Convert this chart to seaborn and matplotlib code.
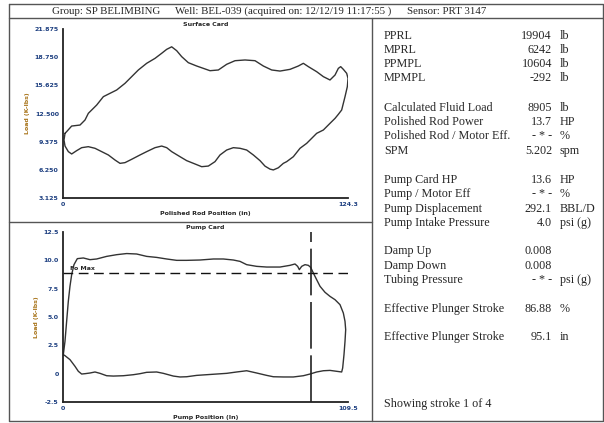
import seaborn as sns
import matplotlib.pyplot as plt
from matplotlib.ticker import FixedLocator
from matplotlib.lines import Line2D

# surface card (polished rod position in, load K-lbs) - closed loop
surf_x = [0.88, 1.60, 3.78, 7.42, 9.60, 11.05, 14.69, 17.60, 20.50, 23.41, 27.04, 29.95,
          32.86, 36.49, 40.13, 43.03, 45.22, 47.40, 49.58, 51.76, 54.66, 58.30, 61.21,
          64.11, 67.75, 71.38, 75.02, 79.38, 83.74, 87.37, 91.01, 94.64, 99.00, 102.63,
          104.82, 107.00, 110.63, 113.54, 116.44, 118.63, 120.08, 121.10, 122.26, 123.71,
          124.3, 124.0, 122.99, 122.26, 121.53, 120.08, 118.63, 116.44, 113.54, 110.63,
          106.27, 103.36, 100.46, 97.55, 96.09, 93.91, 91.73, 90.28, 88.10, 85.92, 83.01,
          80.10, 77.20, 74.29, 71.38, 68.47, 66.29, 63.39, 60.48, 57.57, 53.94, 51.03,
          47.40, 45.22, 43.03, 40.13, 36.49, 33.58, 29.95, 27.04, 24.86, 22.68, 19.78,
          16.87, 13.96, 11.05, 8.15, 5.97, 3.78, 2.33, 0.88, 0.44, 0.88]
surf_load = [10.30, 10.49, 11.11, 11.22, 11.78, 12.52, 13.44, 14.37, 14.74, 15.11, 15.85, 16.59,
             17.33, 18.07, 18.62, 19.18, 19.62, 19.90, 19.47, 18.81, 18.14, 17.77, 17.51,
             17.25, 17.33, 17.96, 18.36, 18.44, 18.36, 17.77, 17.33, 17.21, 17.40, 17.77,
             18.07, 17.70, 17.14, 16.59, 16.22, 16.77, 17.51, 17.70, 17.40, 16.96,
             16.40, 15.48, 14.37, 13.63, 12.89, 12.41, 11.96, 11.41, 10.67, 10.30,
             9.19, 8.64, 7.71, 7.16, 6.97, 6.48, 6.24, 6.33, 6.66, 7.27, 7.90,
             8.45, 8.64, 8.71, 8.45, 7.90, 7.16, 6.67, 6.60, 6.90, 7.27, 7.71,
             8.27, 8.71, 8.89, 8.71, 8.27, 7.90, 7.42, 7.05, 6.97, 7.34, 7.90,
             8.27, 8.64, 8.82, 8.71, 8.38, 8.01, 8.27, 8.89, 9.56, 10.30]

# pump card (pump position in, load K-lbs) - closed loop
pump_x = [0.12, 0.76, 1.40, 2.04, 2.68, 3.33, 4.22, 5.50, 7.81, 10.37, 12.93, 16.77, 20.61,
          24.46, 28.30, 32.14, 35.98, 39.83, 43.67, 47.51, 52.63, 57.79, 61.60, 65.44,
          68.00, 70.56, 74.40, 78.25, 83.37, 87.21, 89.13, 90.15, 90.80, 91.69, 92.97,
          94.25, 95.15, 96.18, 97.46, 98.74, 100.66, 102.58, 104.50, 106.42, 107.70,
          108.34, 108.60, 108.34, 107.95, 107.44, 107.06, 105.14, 102.58, 100.02, 97.46,
          94.90, 92.33, 88.49, 84.65, 80.81, 78.25, 74.40, 70.56, 66.72, 62.88, 59.04,
          55.19, 51.35, 47.51, 44.95, 42.39, 38.54, 35.98, 32.14, 29.58, 27.02, 23.18,
          19.33, 16.77, 14.21, 12.29, 10.37, 8.45, 7.17, 5.89, 4.61, 2.68, 0.76, 0.12]
pump_load = [1.68, 2.85, 4.62, 6.38, 7.71, 8.74, 9.62, 10.15, 10.21, 10.06, 10.12, 10.35, 10.50,
             10.60, 10.56, 10.35, 10.26, 10.12, 10.00, 10.00, 10.03, 10.12, 10.12, 10.03,
             9.91, 9.62, 9.47, 9.41, 9.41, 9.56, 9.68, 9.47, 9.18, 9.47, 9.62,
             9.56, 9.38, 8.88, 8.29, 7.71, 7.18, 6.82, 6.53, 6.09, 5.35,
             4.62, 3.88, 2.85, 1.68, 0.50, 0.15, 0.21, 0.29, 0.26, 0.15,
             -0.03, -0.18, -0.29, -0.29, -0.27, -0.15, 0.06, 0.26, 0.15, 0.03, -0.03,
             -0.09, -0.15, -0.27, -0.29, -0.21, 0.03, 0.15, 0.12, 0.00, -0.09, -0.18,
             -0.21, -0.18, 0.03, 0.15, 0.06, 0.00, -0.03, 0.21, 0.65, 1.24, 1.59, 1.68]

fluid_load = 8.905
eff_stroke = 95.1

surf_yticks = [3.125, 6.250, 9.375, 12.500, 15.625, 18.750, 21.875]
surf_ylabels = ["3.125", "6.250", "9.375", "12.500", "15.625", "18.750", "21.875"]
pump_yticks = [-2.5, 0, 2.5, 5.0, 7.5, 10.0, 12.5]
pump_ylabels = ["-2.5", "0", "2.5", "5.0", "7.5", "10.0", "12.5"]

header = ["Group: SP BELIMBING", "Well: BEL-039 (acquired on: 12/12/19 11:17:55 )",
          "Sensor: PRT 3147"]

rows = [("PPRL", "19904", "lb", 36), ("MPRL", "6242", "lb", 50),
        ("PPMPL", "10604", "lb", 64), ("MPMPL", "-292", "lb", 78),
        ("Calculated Fluid Load", "8905", "lb", 108), ("Polished Rod Power", "13.7", "HP", 122),
        ("Polished Rod / Motor Eff.", "- * -", "%", 136), ("SPM", "5.202", "spm", 151),
        ("Pump Card HP", "13.6", "HP", 180), ("Pump / Motor Eff", "- * -", "%", 194),
        ("Pump Displacement", "292.1", "BBL/D", 209), ("Pump Intake Pressure", "4.0", "psi (g)", 223),
        ("Damp Up", "0.008", "", 251), ("Damp Down", "0.008", "", 266),
        ("Tubing Pressure", "- * -", "psi (g)", 280),
        ("Effective Plunger Stroke", "86.88", "%", 309),
        ("Effective Plunger Stroke", "95.1", "in", 337),
        ("Showing stroke 1 of 4", "", "", 404)]

sns.set_style("white")
W, H = 604, 423
fig = plt.figure(figsize=(6.04, 4.23), dpi=100)

def fx(px):
    return px / W

def fy(py):
    return 1 - py / H

# frame lines
frame = dict(color="#555555", lw=1.0)
fig.add_artist(Line2D([fx(9), fx(603), fx(603), fx(9), fx(9)],
                      [fy(4), fy(4), fy(421), fy(421), fy(4)], **frame))
fig.add_artist(Line2D([fx(9), fx(603)], [fy(18), fy(18)], **frame))
fig.add_artist(Line2D([fx(372), fx(372)], [fy(18), fy(421)], **frame))
fig.add_artist(Line2D([fx(9), fx(372)], [fy(222), fy(222)], **frame))

serif = ["Liberation Serif", "DejaVu Serif"]
for txt, px in zip(header, [52, 175, 407]):
    fig.text(fx(px), fy(11.5), txt, family=serif, fontsize=7.8, va="center", ha="left")

for lab, val, unit, py in rows:
    fig.text(fx(384), fy(py), lab, family=serif, fontsize=8.7, va="center", ha="left")
    if val:
        fig.text(fx(552), fy(py), val, family=serif, fontsize=8.7, va="center", ha="right")
    if unit:
        fig.text(fx(560), fy(py), unit, family=serif, fontsize=8.7, va="center", ha="left")

tick_col = "#1d3f80"
lab_col = "#a8741a"


def style_axes(ax, xmax, yticks, ylabels, ylim, title, xlabel):
    ax.set_xlim(0, xmax)
    ax.set_ylim(*ylim)
    for s in ["top", "right"]:
        ax.spines[s].set_visible(False)
    for s in ["left", "bottom"]:
        ax.spines[s].set_color("#222222")
        ax.spines[s].set_linewidth(1.3)
    ax.set_yticks(yticks)
    ax.set_yticklabels(ylabels)
    mids = [(a + b) / 2 for a, b in zip(yticks[:-1], yticks[1:])]
    ax.yaxis.set_minor_locator(FixedLocator(mids))
    ax.set_xticks([0, xmax])
    ax.set_xticklabels(["0", f"{xmax:g}"])
    ax.xaxis.set_minor_locator(FixedLocator([xmax / 2]))
    ax.tick_params(axis="both", which="major", direction="out", length=2, width=1,
                   labelsize=4.5, labelcolor=tick_col, pad=1)
    ax.tick_params(axis="both", which="minor", direction="in", length=2, width=1)
    for t in ax.get_xticklabels() + ax.get_yticklabels():
        t.set_fontweight("bold")
    ax.set_title(title, fontsize=4.5, fontweight="bold", pad=2)
    ax.set_xlabel(xlabel, fontsize=4.5, fontweight="bold", labelpad=3)
    ax.set_ylabel("Load (K-lbs)", fontsize=4.5, fontweight="bold", color=lab_col, labelpad=3)


ax1 = fig.add_axes([0.1043, 0.5319, 0.4719, 0.3995])
sns.lineplot(x=surf_x, y=surf_load, sort=False, estimator=None, ax=ax1,
             color="#333333", lw=1.0)
style_axes(ax1, 124.3, surf_yticks, surf_ylabels, (3.125, 21.875),
           "Surface Card", "Polished Rod Position (in)")

ax2 = fig.add_axes([0.1043, 0.0496, 0.4719, 0.4019])
sns.lineplot(x=pump_x, y=pump_load, sort=False, estimator=None, ax=ax2,
             color="#333333", lw=1.0)
ax2.axhline(fluid_load, color="#111111", lw=1.0, ls=(0, (7, 4)))
ax2.axvline(eff_stroke, color="#222222", lw=1.2, ls=(0, (28, 4)))
ax2.text(2.5, fluid_load + 0.15, "Fo Max", fontsize=4.5, fontweight="bold",
         va="bottom", ha="left")
style_axes(ax2, 109.5, pump_yticks, pump_ylabels, (-2.5, 12.5),
           "Pump Card", "Pump Position (In)")

fig.savefig("out.png", dpi=100)
